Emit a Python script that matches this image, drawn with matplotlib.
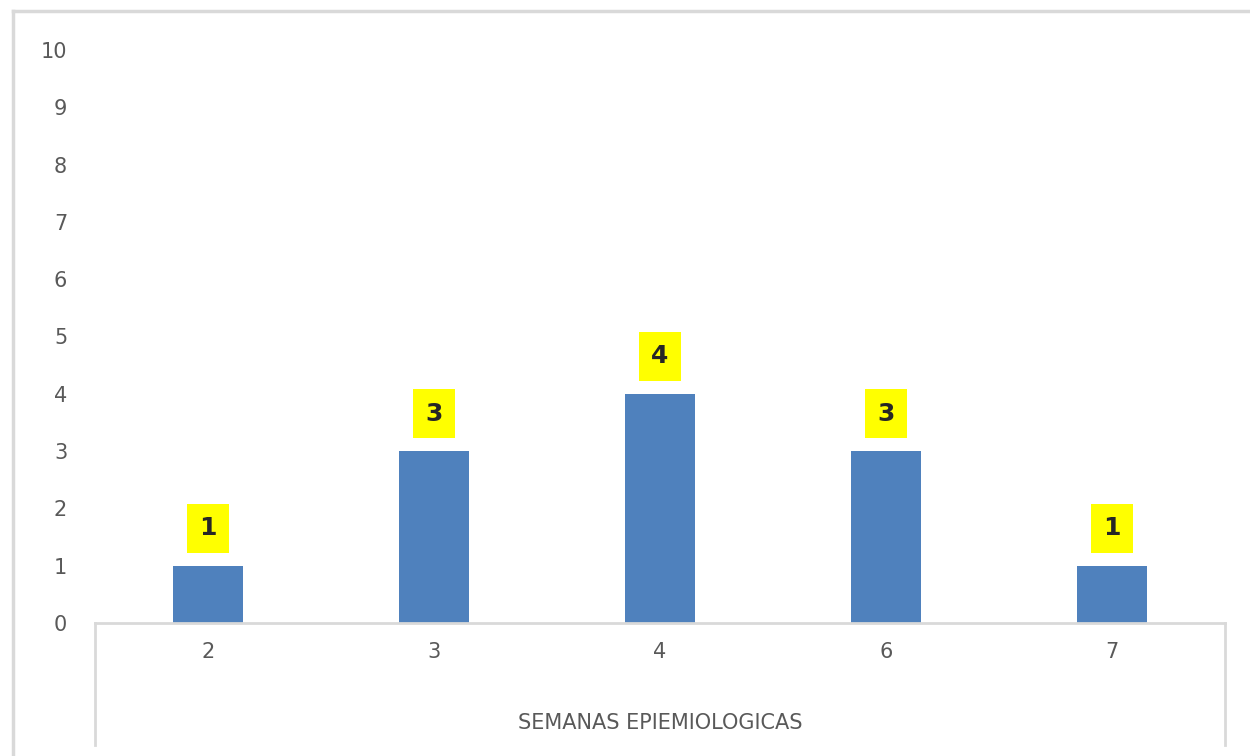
import matplotlib
matplotlib.use("Agg")
import matplotlib.pyplot as plt
from matplotlib.lines import Line2D

semanas = ["2", "3", "4", "6", "7"]
casos = [1, 3, 4, 3, 1]
y_ticks = list(range(0, 11))

grey = "#d9d9d9"
text_grey = "#595959"
bar_blue = "#4f81bd"

fig = plt.figure(figsize=(12.5, 7.56), dpi=100)
ax = fig.add_axes([0.076, 0.176, 0.904, 0.758])

x = list(range(len(semanas)))
ax.bar(x, casos, width=0.314, color=bar_blue, zorder=2)

for xi, v in zip(x, casos):
    ax.annotate(str(v), (xi, v), xytext=(0, 27), textcoords="offset points",
                ha="center", va="center", fontsize=18, fontweight="bold",
                color="#262626",
                bbox=dict(boxstyle="square,pad=0.5", fc="#ffff00", ec="none"))

ax.set_xlim(-0.5, len(semanas) - 0.5)
ax.set_ylim(0, 10)
ax.set_yticks(y_ticks)
ax.set_xticks(x)
ax.set_xticklabels(semanas)
ax.tick_params(axis="both", length=0, labelsize=15, labelcolor=text_grey)
ax.tick_params(axis="x", pad=14)
ax.tick_params(axis="y", pad=20)

for s in ["top", "right", "left"]:
    ax.spines[s].set_visible(False)
ax.spines["bottom"].set_color(grey)
ax.spines["bottom"].set_linewidth(2)

# category axis box lines going down
fig.add_artist(Line2D([0.076, 0.076], [0.176, 0.015], color=grey, lw=2))
fig.add_artist(Line2D([0.98, 0.98], [0.176, 0.015], color=grey, lw=2))

# chart area border
fig.add_artist(Line2D([0.0104, 0.0104], [0.0, 0.986], color=grey, lw=2.5))
fig.add_artist(Line2D([0.0104, 1.0], [0.986, 0.986], color=grey, lw=2.5))

fig.text(0.528, 0.043, "SEMANAS EPIEMIOLOGICAS", ha="center", va="center",
         fontsize=15, color=text_grey)

fig.savefig("out.png", dpi=100)
